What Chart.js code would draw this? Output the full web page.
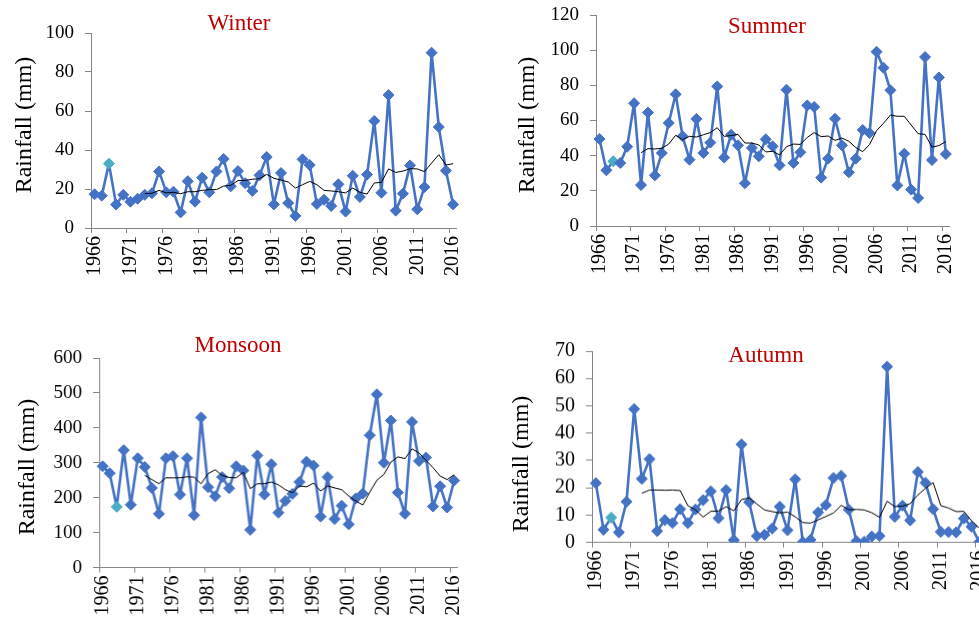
<!DOCTYPE html>
<html>
<head>
<meta charset="utf-8">
<script src="https://cdn.jsdelivr.net/npm/chart.js"></script>
<style>
    html, body { margin: 0; padding: 0; background: #fff; overflow: hidden; }
    body { width: 979px; height: 621px; position: relative; font-family: "Liberation Serif", "Times New Roman", serif; }
    .panel { position: absolute; }
    .title { position: absolute; color: #c00000; font-size: 23px; transform: translate(-50%, -50%); white-space: nowrap; }
    .ytitle { position: absolute; color: #000; font-size: 24px; transform: translate(-50%, -50%) rotate(-90deg); white-space: nowrap; }
</style>
</head>
<body>
<div class="panel" style="left:30.7px;top:7.7px;width:455.7px;height:280px"><canvas id="cWinter"></canvas></div>
<div class="panel" style="left:536px;top:-10px;width:443.3px;height:296px"><canvas id="cSummer"></canvas></div>
<div class="panel" style="left:39.3px;top:332.7px;width:447.7px;height:294.6px"><canvas id="cMonsoon"></canvas></div>
<div class="panel" style="left:531.7px;top:326px;width:481px;height:275.7px"><canvas id="cAutumn"></canvas></div>

<div class="title" style="left:239px;top:23px">Winter</div>
<div class="title" style="left:767px;top:26px">Summer</div>
<div class="title" style="left:238px;top:345px">Monsoon</div>
<div class="title" style="left:766px;top:355px">Autumn</div>

<div class="ytitle" style="left:22.7px;top:125px">Rainfall (mm)</div>
<div class="ytitle" style="left:526px;top:125px">Rainfall (mm)</div>
<div class="ytitle" style="left:26px;top:467px">Rainfall (mm)</div>
<div class="ytitle" style="left:520px;top:464px">Rainfall (mm)</div>

<script>
// years 1966..2016
const years = [
    '1966', '1967', '1968', '1969', '1970', '1971', '1972', '1973', '1974', '1975',
    '1976', '1977', '1978', '1979', '1980', '1981', '1982', '1983', '1984', '1985',
    '1986', '1987', '1988', '1989', '1990', '1991', '1992', '1993', '1994', '1995',
    '1996', '1997', '1998', '1999', '2000', '2001', '2002', '2003', '2004', '2005',
    '2006', '2007', '2008', '2009', '2010', '2011', '2012', '2013', '2014', '2015',
    '2016',
];

const winterRain = [
    17.3, 16.6, 33, 12, 17, 13.5, 15, 17, 17.8, 29,
    18.3, 18.6, 8, 24, 13.5, 25.8, 18.3, 29, 35.4, 21.4,
    29.2, 23, 19, 27, 36.4, 12.1, 28.2, 12.8, 6.2, 35.2,
    32.3, 12.3, 14.5, 11.3, 22.4, 8.4, 26.8, 15.9, 27.4, 54.9,
    18.1, 68.2, 8.9, 17.6, 32.1, 9.6, 21, 89.9, 51.8, 29.4,
    12.1,
];
const winterTrend = [
    null, null, null, null, null, null, null, 17.6, 17.8, 19.3,
    18, 18.3, 17.6, 18.6, 18.6, 19.3, 19.7, 19.7, 21.5, 21.9,
    24.3, 24.4, 25, 25.3, 27.5, 25.5, 24.6, 23.6, 20.5, 22.2,
    23.9, 22.2, 19.3, 19, 18.6, 18, 20.5, 18.3, 17.4, 23.1,
    23.4, 30.3, 28.5, 29.2, 30.4, 30.3, 28.9, 33.3, 37.6, 32.3,
    33,
];

const summerRain = [
    49.5, 31.7, 36.8, 35.8, 45.1, 69.8, 23.3, 64.5, 28.8, 41.5,
    58.6, 74.9, 51, 37.7, 60.9, 41.5, 47.4, 79.4, 38.9, 51.9,
    45.9, 24.3, 44.4, 39.6, 49.3, 45.3, 34.5, 77.5, 35.8, 41.9,
    68.6, 67.7, 27.5, 38.3, 61, 45.9, 30.5, 38.3, 54.6, 52.9,
    99.1, 90, 77.2, 23.1, 41.1, 20.7, 15.9, 96.1, 37.5, 84.5,
    40.9,
];
const summerTrend = [
    null, null, null, null, null, null, 41.7, 44, 43.8, 44.2,
    46.6, 51.6, 49.1, 51, 50.6, 51.9, 53.1, 55.9, 51, 51.4,
    52.1, 47.2, 47.2, 46.1, 42.1, 42.5, 40.4, 45.1, 46.6, 46.4,
    50.4, 53.1, 50.8, 51.2, 48.7, 50, 48.2, 44.6, 42.3, 46.4,
    54.2, 58.4, 63.1, 62.4, 62.4, 57.4, 52.5, 52.1, 44.9, 45.7,
    48,
];

const monsoonRain = [
    290, 270, 174, 336, 180, 313, 288, 228, 154, 313,
    319, 209, 313, 150, 430, 230, 204, 259, 227, 290,
    278, 108, 321, 209, 296, 157, 191, 211, 245, 303,
    292, 146, 259, 139, 177, 124, 198, 212, 379, 496,
    300, 421, 215, 154, 417, 305, 315, 175, 233, 172,
    249,
];
const monsoonTrend = [
    null, null, null, null, null, null, 264, 252, 240, 257,
    257, 257, 260, 259, 240, 269, 280, 264, 258, 257,
    273, 226, 240, 240, 245, 237, 223, 214, 234, 231,
    242, 219, 234, 228, 223, 205, 191, 179, 216, 250,
    267, 302, 317, 312, 340, 328, 307, 286, 262, 252,
    266,
];

const autumnRain = [
    21.7, 4.7, 9.1, 3.7, 14.9, 48.8, 23.3, 30.5, 4.2, 8.2,
    7.1, 12.2, 7.1, 12.1, 15.5, 18.7, 8.9, 19.2, 0.9, 35.9,
    14.8, 2.4, 2.8, 5.1, 13.1, 4.5, 23.1, 0.2, 1, 11,
    13.7, 23.6, 24.4, 12, 0.5, 0.3, 2.2, 2.4, 64.3, 9.4,
    13.5, 8.1, 25.8, 21.8, 12.2, 3.9, 3.8, 3.7, 8.8, 5.8,
    0.2,
];
const autumnTrend = [
    null, null, null, null, null, null, 18, 19.2, 19.2, 19.1,
    19.2, 19, 13.5, 11.9, 9.3, 11.4, 11.5, 13.1, 11.6, 15.7,
    16.3, 14.1, 11.9, 11.3, 10.8, 11.1, 9.4, 7.3, 7.1, 8.3,
    9.5, 10.8, 13.6, 12, 12.1, 11.9, 10.9, 9.2, 15.1, 13.1,
    13.3, 14.2, 17.4, 19.8, 21.9, 13.5, 12.6, 11.3, 11.4, 8,
    5.3,
];

const BLUE = '#4472c4';
const HIGHLIGHT = '#4bacc6';
const AXIS = '#868686';
const FONT = '"Liberation Serif", "Times New Roman", serif';

function makeChart(id, rain, trend, yMax, yStep, yFont) {
    const canvas = document.getElementById(id);
    return new Chart(canvas, {
        type: 'line',
        data: {
            labels: years,
            datasets: [
                {
                    data: trend,
                    borderColor: '#000',
                    borderWidth: 1,
                    pointRadius: 0,
                    tension: 0,
                    order: 0,
                },
                {
                    data: rain,
                    borderColor: BLUE,
                    borderWidth: 2.6,
                    borderJoinStyle: 'round',
                    pointStyle: 'rectRot',
                    pointRadius: 5.5,
                    pointBorderWidth: 1,
                    pointBackgroundColor: (c) => (c.dataIndex === 2 ? HIGHLIGHT : BLUE),
                    pointBorderColor: (c) => (c.dataIndex === 2 ? HIGHLIGHT : BLUE),
                    tension: 0,
                    order: 1,
                },
            ],
        },
        options: {
            responsive: true,
            maintainAspectRatio: false,
            animation: false,
            layout: { padding: { top: 25, right: 30, left: 0, bottom: 0 } },
            plugins: { legend: { display: false }, tooltip: { enabled: false } },
            scales: {
                x: {
                    type: 'category',
                    offset: true,
                    afterFit: (s) => { s.height = 60; },
                    border: { color: AXIS, width: 1 },
                    grid: {
                        offset: true,
                        drawOnChartArea: false,
                        tickLength: 5,
                        color: (c) => (c.index % 5 === 0 ? AXIS : 'rgba(0,0,0,0)'),
                    },
                    ticks: {
                        autoSkip: false,
                        maxRotation: 90,
                        minRotation: 90,
                        padding: 3,
                        color: '#000',
                        font: { family: FONT, size: 20 },
                        callback: (v, i) => (i % 5 === 0 ? years[i] : ''),
                    },
                },
                y: {
                    min: 0,
                    max: yMax,
                    afterFit: (s) => { s.width = 60; },
                    border: { color: AXIS, width: 1 },
                    grid: { drawOnChartArea: false, tickLength: 6, color: AXIS },
                    ticks: {
                        stepSize: yStep,
                        autoSkip: false,
                        padding: 11,
                        color: '#000',
                        font: { family: FONT, size: yFont },
                    },
                },
            },
        },
    });
}

makeChart('cWinter', winterRain, winterTrend, 100, 20, 19);
makeChart('cSummer', summerRain, summerTrend, 120, 20, 19);
makeChart('cMonsoon', monsoonRain, monsoonTrend, 600, 100, 19);
makeChart('cAutumn', autumnRain, autumnTrend, 70, 10, 20);
</script>
</body>
</html>
